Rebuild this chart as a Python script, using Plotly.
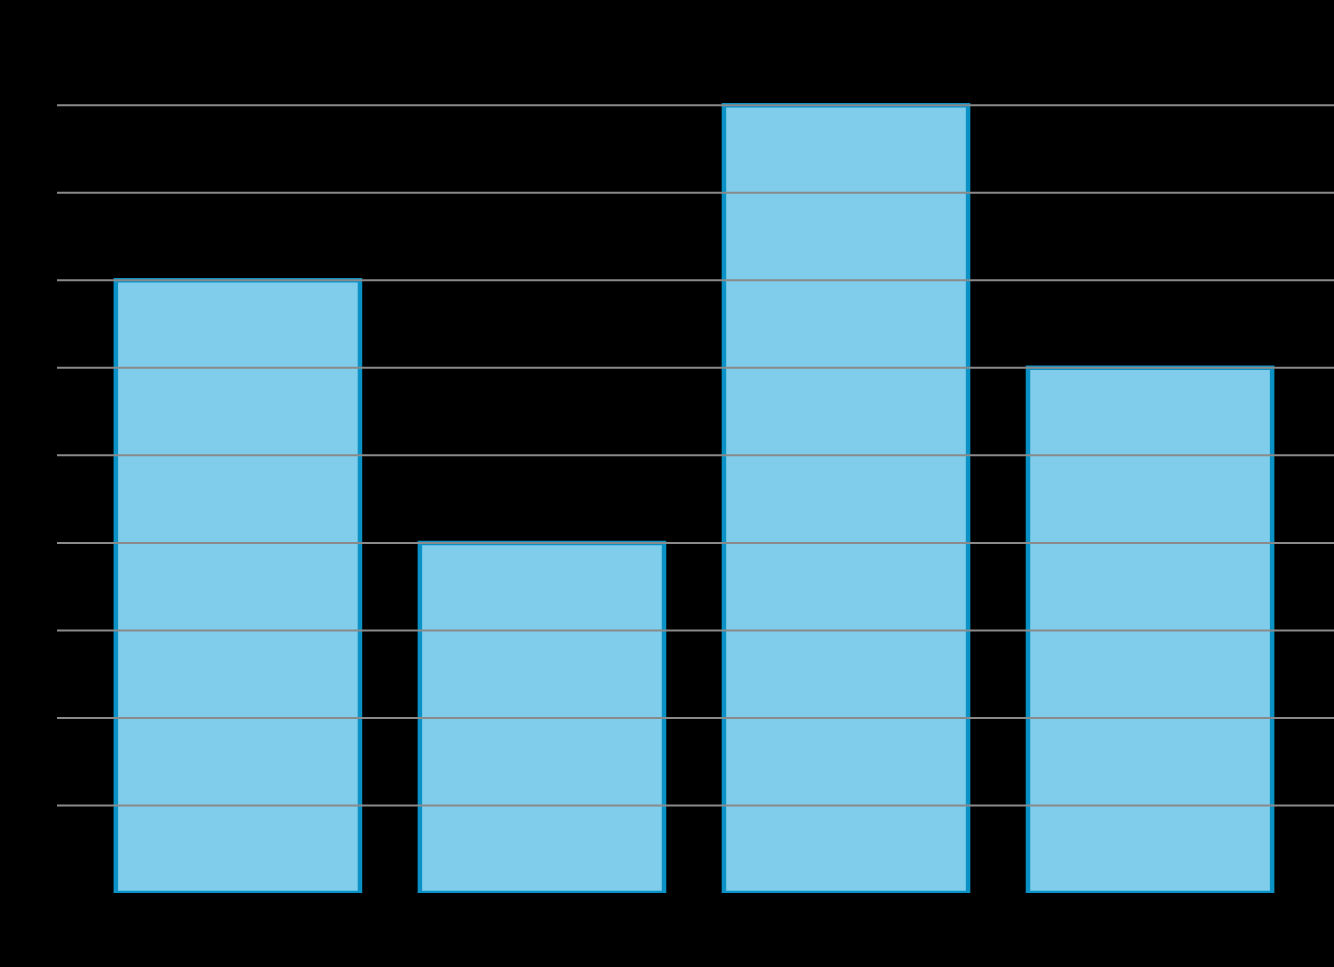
import plotly.graph_objects as go

categories = ["A", "B", "C", "D"]
values = [7, 4, 9, 6]
grid_values = [1, 2, 3, 4, 5, 6, 7, 8, 9]

fig = go.Figure(go.Bar(
    x=list(range(len(categories))),
    y=values,
    width=0.803,
    marker=dict(color="#7fcdeb", line=dict(color="#0a92c6", width=4.5)),
))

# grid drawn on top of the bars, like the reference
for g in grid_values:
    fig.add_shape(type="line", xref="paper", x0=0, x1=1, y0=g, y1=g,
                  line=dict(color="#8a8a8a", width=2), layer="above")

fig.update_layout(
    width=1334, height=967,
    margin=dict(l=57, r=0, t=79, b=74),
    paper_bgcolor="black", plot_bgcolor="black",
    showlegend=False,
    xaxis=dict(range=[-0.595, 3.605], showgrid=False, zeroline=False,
               showticklabels=False, fixedrange=True),
    yaxis=dict(range=[0, 9.3], showgrid=False, zeroline=False,
               showticklabels=False, fixedrange=True),
)

fig.write_html("out.html", config={"displayModeBar": False},
               post_script="document.body.style.margin='0';document.body.style.background='black';")
